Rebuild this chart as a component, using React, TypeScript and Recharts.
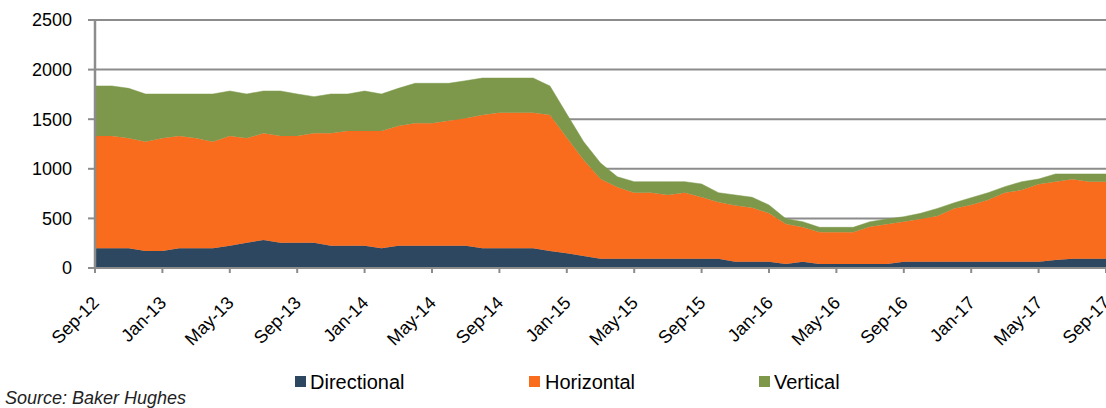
import React from "react";
import { AreaChart, Area, XAxis, YAxis, CartesianGrid } from "recharts";

const months = [
  "Sep-12", "Oct-12", "Nov-12", "Dec-12",
  "Jan-13", "Feb-13", "Mar-13", "Apr-13", "May-13", "Jun-13", "Jul-13", "Aug-13", "Sep-13", "Oct-13", "Nov-13", "Dec-13",
  "Jan-14", "Feb-14", "Mar-14", "Apr-14", "May-14", "Jun-14", "Jul-14", "Aug-14", "Sep-14", "Oct-14", "Nov-14", "Dec-14",
  "Jan-15", "Feb-15", "Mar-15", "Apr-15", "May-15", "Jun-15", "Jul-15", "Aug-15", "Sep-15", "Oct-15", "Nov-15", "Dec-15",
  "Jan-16", "Feb-16", "Mar-16", "Apr-16", "May-16", "Jun-16", "Jul-16", "Aug-16", "Sep-16", "Oct-16", "Nov-16", "Dec-16",
  "Jan-17", "Feb-17", "Mar-17", "Apr-17", "May-17", "Jun-17", "Jul-17", "Aug-17", "Sep-17",
];

const directional = [
  198, 198, 198, 171, 171, 198, 198, 198, 225, 255, 282, 255, 255, 255, 225, 225,
  225, 198, 225, 225, 225, 225, 225, 198, 198, 198, 198, 171,
  148, 121, 94, 94, 94, 94, 94, 94, 94, 94, 64, 64,
  64, 40, 64, 40, 40, 40, 40, 40, 64, 64, 64, 64,
  64, 64, 64, 64, 64, 80, 94, 94, 94,
];

const horizontal = [
  1133, 1133, 1109, 1102, 1136, 1133, 1109, 1075, 1106, 1052, 1076, 1076, 1076, 1103, 1133, 1156,
  1156, 1183, 1206, 1233, 1233, 1260, 1284, 1344, 1368, 1368, 1368, 1371,
  1166, 968, 803, 719, 665, 665, 642, 665, 619, 568, 566, 544,
  487, 403, 346, 320, 320, 320, 377, 400, 403, 430, 460, 537,
  571, 621, 695, 722, 779, 790, 800, 776, 776,
];

const vertical = [
  504, 504, 504, 481, 447, 423, 447, 481, 453, 447, 426, 453, 423, 369, 396, 373,
  403, 373, 380, 404, 404, 377, 379, 373, 349, 349, 349, 293,
  238, 184, 161, 107, 111, 111, 134, 111, 134, 97, 106, 105,
  84, 54, 57, 50, 50, 50, 50, 54, 50, 57, 77, 57,
  74, 74, 61, 84, 54, 78, 54, 78, 78,
];

const yTicks = [0, 500, 1000, 1500, 2000, 2500];

const seriesNames = ["Directional", "Horizontal", "Vertical"];
const seriesColors = ["#2D4760", "#F96B1D", "#7D984A"];

const data = months.map((m, i) => ({
  month: m,
  Directional: directional[i],
  Horizontal: horizontal[i],
  Vertical: vertical[i],
}));

const FONT = "'Liberation Sans', Arial, sans-serif";
const GRID = "#8C8C8C";

const XTick = (props: any) => {
  const { x, y, payload } = props;
  return (
    <g transform={`translate(${x + 5},${y + 29})`}>
      <text
        x={0}
        y={0}
        textAnchor="end"
        transform="rotate(-45)"
        fontSize={18}
        fontFamily={FONT}
        fill="#000"
      >
        {payload.value}
      </text>
    </g>
  );
};

const legendPos = [
  { sx: 295, tx: 310 },
  { sx: 529, tx: 545 },
  { sx: 759, tx: 774 },
];

export default function App() {
  return (
    <div style={{ position: "absolute", left: 0, top: 0, width: 1106, height: 408, background: "#fff" }}>
      <AreaChart
        width={1106}
        height={408}
        data={data}
        margin={{ top: 20, right: 0, left: 0, bottom: 48 }}
      >
        <CartesianGrid vertical={false} stroke={GRID} strokeWidth={2} />
        <XAxis
          dataKey="month"
          interval={3}
          height={92}
          tickSize={5}
          tickMargin={2}
          axisLine={{ stroke: GRID, strokeWidth: 2 }}
          tickLine={{ stroke: GRID, strokeWidth: 2 }}
          tick={<XTick />}
        />
        <YAxis
          width={95}
          domain={[0, 2500]}
          ticks={yTicks}
          tickSize={7}
          tickMargin={16}
          axisLine={{ stroke: GRID, strokeWidth: 2.5 }}
          tickLine={{ stroke: GRID, strokeWidth: 2 }}
          tick={{ fontSize: 18, fontFamily: FONT, fill: "#000" }}
          allowDataOverflow
        />
        {seriesNames.map((n, i) => (
          <Area
            key={n}
            type="linear"
            dataKey={n}
            stackId="1"
            fill={seriesColors[i]}
            fillOpacity={1}
            stroke={seriesColors[i]}
            strokeWidth={0.5}
            isAnimationActive={false}
          />
        ))}
      </AreaChart>
      <svg
        width={1106}
        height={408}
        style={{ position: "absolute", left: 0, top: 0, pointerEvents: "none" }}
      >
        {seriesNames.map((n, i) => (
          <g key={n}>
            <rect x={legendPos[i].sx} y={376} width={11} height={11} fill={seriesColors[i]} />
            <text x={legendPos[i].tx} y={389} fontSize={20} fontFamily={FONT} fill="#000">
              {n}
            </text>
          </g>
        ))}
        <text x={5} y={404} fontSize={18} fontStyle="italic" fontFamily={FONT} fill="#222">
          Source: Baker Hughes
        </text>
      </svg>
    </div>
  );
}
